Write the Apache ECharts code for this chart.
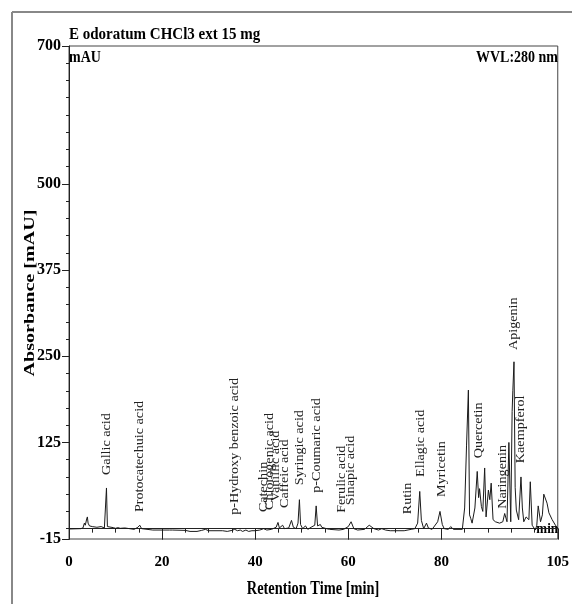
<!DOCTYPE html>
<html><head><meta charset="utf-8">
<script src="https://cdn.jsdelivr.net/npm/echarts@6/dist/echarts.min.js"></script>
<style>html,body{margin:0;padding:0;background:#fff}#c{width:572px;height:604px}</style>
</head><body><div id="c"></div>
<script>
// Chromatogram trace (retention time in min, absorbance in mAU)
const retentionTime = [
  0, 2.5, 3.0, 3.3, 3.5, 3.8, 3.95, 4.1, 4.4, 5.0,
  6.0, 6.9, 7.1, 7.6, 7.85, 8.05, 8.25, 8.6, 9.5, 10,
  10.5, 11, 12, 13, 14, 14.8, 15.2, 15.6, 16, 18,
  21.6, 21.9, 22.2, 25, 26, 27.5, 28.5, 29.3, 30, 33,
  34, 35, 35.6, 36.2, 36.8, 37.3, 38, 38.6, 39.3, 40,
  41, 41.8, 42.5, 43.5, 44.5, 44.9, 45.2, 45.9, 46.3, 47.2,
  47.8, 48.2, 48.8, 49.2, 49.5, 49.75, 50.2, 50.8, 51.3, 52,
  52.8, 53.1, 53.4, 54, 54.3, 54.7, 55.3, 56, 58, 59,
  60, 60.6, 61.2, 62, 63.5, 64.5, 65.5, 66.5, 67.2, 68,
  69, 72, 73.5, 74.3, 74.9, 75.35, 75.7, 76.2, 76.8, 77.2,
  78, 79.2, 79.7, 80.2, 80.6, 81.5, 82, 82.6, 84.5, 85.0,
  85.4, 85.8, 86.05, 86.3, 86.6, 87.2, 87.7, 88.0, 88.2, 88.6,
  88.9, 89.3, 89.6, 90.1, 90.4, 90.7, 91.1, 91.6, 92.5, 93.2,
  93.6, 94.1, 94.5, 94.9, 95.2, 95.35, 95.6, 95.85, 96.1, 96.6,
  97.1, 97.4, 97.7, 98.2, 98.8, 99.1, 99.5, 100.2, 100.5, 100.8,
  101.3, 101.7, 102, 102.4, 102.7, 103.1, 103.8, 104.5, 105
];
const absorbance = [
  -0.5, 0, 1, 8, 5, 14, 17, 8, 4, 3,
  2, 3, 1.5, 1, 2, 59, 3, 1, 1.5, 0.5,
  1.5, 0.5, 1, 0, -1, 2, 5, 0, -2, -2,
  -2, 0, -2, -2.5, -4, -4, -2.5, -1, -3, -3,
  -4, -2.5, -1, -3, -2, -4, -2, -4, -3, -3,
  -2, 0, -2, -1, 2, 9, 1, 5, 0, 1,
  12, 2, 0, 8, 42, 6, 0, 4, -1, 2,
  5, 33, 4, 6, 2, 4, 0, -1, -2, -1,
  3, 10, 0, -2, -1, 5, 0, -2, 0, -2,
  -3, -3, -1, 0, 8, 54, 12, 0, 8, 1,
  -1, 10, 25, 6, 0, -1, 3, -1, -1, 30,
  120, 201, 20, 15, 8, 30, 83, 45, 58, 32,
  25, 88, 17, 56, 42, 66, 13, 10, 8, 10,
  22, 10, 125, 10, 170, 200, 242, 60, 27, 13,
  75, 30, 10, 17, 13, 68, 5, -2, 5, 33,
  10, 20, 50, 49, 37, 23, 13, 5, 1
];
// Peak annotations
const compoundNames = ['Gallic acid','Protocatechuic acid','p-Hydroxy benzoic acid','Catechin','Chlorogenic acid','Vanillic acid','Caffeic acid','Syringic acid','p-Coumaric acid','Ferulic acid','Sinapic acid','Rutin','Ellagic acid','Myricetin','Quercetin','Naringenin','Apigenin','Kaempferol'];
const compoundTimes = [8.1, 15.2, 35.6, 41.8, 43.1, 44.5, 46.3, 49.5, 53.3, 58.6, 60.6, 72.8, 75.6, 80.0, 88.1, 93.1, 95.6, 97.0];
const compoundLabelBase = [78, 24, 20, 24, 27, 39, 30, 63, 52, 23, 34, 21, 75, 46, 102, 29, 259, 95];
// Axis ticks
const xTickLabels = [0, 20, 40, 60, 80, 105];
const yTickLabels = [-15, 125, 250, 375, 500, 700];
const xMinorTicks = []; for (let t = 0; t <= 105; t += 5) xMinorTicks.push(t);
const yMinorTicks = []; for (let v = 0; v <= 700; v += 25) yMinorTicks.push(v);

const chart = echarts.init(document.getElementById('c'), null, {renderer: 'canvas'});
const serif = '"Liberation Serif","Times New Roman",serif';
const axisColor = '#222';

const trace = retentionTime.map((t, i) => [t, absorbance[i]]);
const labelData = compoundTimes.map((t, i) => [t, compoundLabelBase[i]]);

function gText(x, y, text, size, opts) {
  return Object.assign({
    type: 'text', x: x, y: y, silent: true,
    style: Object.assign({
      text: text, font: 'bold ' + size + 'px ' + serif, fill: '#000',
      align: 'left', verticalAlign: 'middle', textAlign: 'left', textVerticalAlign: 'middle'
    }, (opts && opts.style) || {})
  }, (opts && opts.el) || {});
}

chart.setOption({
  animation: false,
  backgroundColor: '#fff',
  grid: {left: 69, right: 13, top: 46, bottom: 65, show: true, borderColor: '#444', borderWidth: 1, backgroundColor: 'transparent'},
  xAxis: [{
    type: 'value', min: 0, max: 105, position: 'bottom',
    axisLine: {show: true, lineStyle: {color: axisColor, width: 1}},
    axisTick: {show: true, customValues: xTickLabels, length: 11, lineStyle: {color: axisColor}},
    axisLabel: {show: true, customValues: xTickLabels, margin: 16, color: '#000', fontFamily: serif, fontWeight: 'bold', fontSize: 15},
    splitLine: {show: false}
  }, {
    type: 'value', min: 0, max: 105, position: 'bottom',
    axisLine: {show: false},
    axisTick: {show: true, customValues: xMinorTicks, length: 4, lineStyle: {color: axisColor}},
    axisLabel: {show: false},
    splitLine: {show: false}
  }],
  yAxis: [{
    type: 'value', min: -15, max: 700, position: 'left',
    axisLine: {show: true, lineStyle: {color: axisColor, width: 1}},
    axisTick: {show: true, customValues: yTickLabels, length: 7, lineStyle: {color: axisColor}},
    axisLabel: {show: true, customValues: yTickLabels, margin: 8, color: '#000', fontFamily: serif, fontWeight: 'bold', fontSize: 16},
    splitLine: {show: false}
  }, {
    type: 'value', min: -15, max: 700, position: 'left',
    axisLine: {show: false},
    axisTick: {show: true, customValues: yMinorTicks, length: 3, lineStyle: {color: axisColor}},
    axisLabel: {show: false},
    splitLine: {show: false}
  }],
  series: [{
    type: 'line', name: 'WVL:280 nm', data: trace, showSymbol: false, symbol: 'none',
    lineStyle: {color: '#1a1a1a', width: 1}, xAxisIndex: 0, yAxisIndex: 0, z: 3
  }, {
    type: 'custom', name: 'Compounds', data: labelData, xAxisIndex: 0, yAxisIndex: 0, clip: false, z: 4,
    renderItem: function (params, api) {
      const p = api.coord([api.value(0), api.value(1)]);
      return {
        type: 'text', x: p[0], y: p[1], rotation: Math.PI / 2, scaleX: 1.18,
        style: {
          text: compoundNames[params.dataIndex], font: '12px ' + serif, fill: '#222',
          align: 'left', verticalAlign: 'middle', textAlign: 'left', textVerticalAlign: 'middle'
        }
      };
    }
  }],
  graphic: [
    {type: 'line', silent: true, shape: {x1: 12, y1: 12, x2: 572, y2: 12}, style: {stroke: '#888', lineWidth: 2}},
    {type: 'line', silent: true, shape: {x1: 12, y1: 12, x2: 12, y2: 604}, style: {stroke: '#888', lineWidth: 2}},
    gText(69, 35, 'E odoratum CHCl3 ext 15 mg', 15, {el: {scaleY: 1.12}}),
    gText(69, 58, 'mAU', 14, {el: {scaleY: 1.2}}),
    gText(558, 58, 'WVL:280 nm', 14, {el: {scaleY: 1.2}, style: {align: 'right', textAlign: 'right'}}),
    gText(558, 529, 'min', 13, {el: {scaleY: 1.2}, style: {align: 'right', textAlign: 'right'}}),
    gText(313, 589, 'Retention Time [min]', 14.4, {el: {scaleY: 1.35}, style: {align: 'center', textAlign: 'center'}}),
    gText(30, 293, 'Absorbance [mAU]', 15, {el: {rotation: Math.PI / 2, scaleX: 1.34}, style: {align: 'center', textAlign: 'center'}})
  ]
});
</script>
</body></html>
